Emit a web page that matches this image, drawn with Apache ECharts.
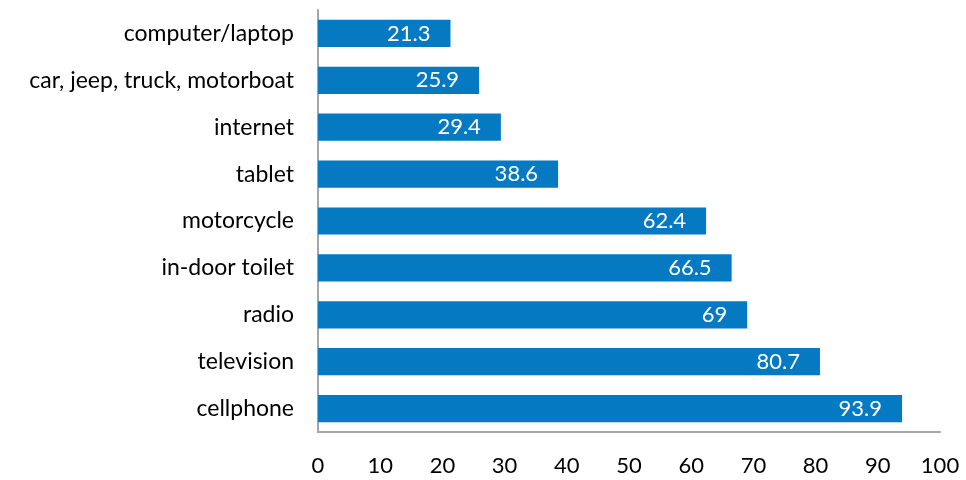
<!DOCTYPE html>
<html>
<head>
<meta charset="utf-8">
<script src="https://cdn.jsdelivr.net/npm/echarts@6/dist/echarts.min.js"></script>
<style>
  html, body { margin: 0; padding: 0; background: #fff; }
  #chart { width: 966px; height: 480px; }
</style>
</head>
<body>
<div id="chart"></div>
<script>
// Household items, listed top to bottom
const categories = [
  'computer/laptop',
  'car, jeep, truck, motorboat',
  'internet',
  'tablet',
  'motorcycle',
  'in-door toilet',
  'radio',
  'television',
  'cellphone'
];
const values = [21.3, 25.9, 29.4, 38.6, 62.4, 66.5, 69, 80.7, 93.9];
const xTicks = { min: 0, max: 100, step: 10 };

const FONT = 'Lato, "Open Sans", sans-serif';
const chart = echarts.init(document.getElementById('chart'));

chart.setOption({
  animation: false,
  grid: { left: 318, right: 26, top: 10, bottom: 48, containLabel: false },
  xAxis: {
    type: 'value',
    min: xTicks.min,
    max: xTicks.max,
    interval: xTicks.step,
    splitLine: { show: false },
    axisTick: { show: false },
    axisLine: { show: true, lineStyle: { color: '#a6a6a6', width: 2 } },
    axisLabel: { color: '#000', fontFamily: FONT, fontSize: 22, margin: 23 }
  },
  yAxis: {
    type: 'category',
    data: categories,
    inverse: true,
    axisTick: { show: false },
    axisLine: { show: true, lineStyle: { color: '#a6a6a6', width: 2 } },
    axisLabel: {
      color: '#000', fontFamily: FONT, fontSize: 23, margin: 24,
      padding: [5, 0, 0, 0]
    }
  },
  series: [{
    type: 'bar',
    data: values,
    barCategoryGap: '42%',
    itemStyle: { color: '#0579c2' },
    label: {
      show: true,
      position: 'insideRight',
      distance: 20,
      color: '#fff',
      fontFamily: FONT,
      fontSize: 22
    }
  }]
});
</script>
</body>
</html>
